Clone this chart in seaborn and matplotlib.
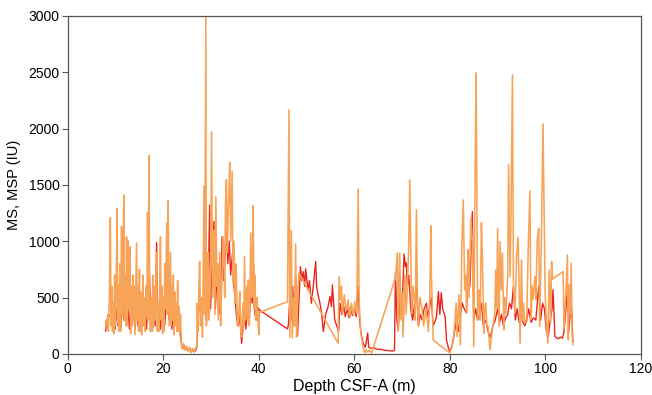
import pandas as pd
import matplotlib
matplotlib.use('Agg')
import matplotlib.pyplot as plt
import seaborn as sns

# =========================================
# MSP (diem, mau cam) - do sau (m) va gia tri (IU), doc tu hinh
msp_depth = [
    7.9, 8.05, 8.2, 8.35, 8.5, 8.7, 8.9, 9.05, 9.2, 9.35, 9.5, 9.65, 9.8, 9.95, 10.1, 10.3,
    10.45, 10.6, 10.75, 10.9, 11.05, 11.25, 11.4, 11.55, 11.73, 11.85, 12.0, 12.15, 12.3, 12.45, 12.6, 12.75,
    12.9, 13.0, 13.15, 13.3, 13.45, 13.6, 13.75, 13.9, 14.05, 14.2, 14.4, 14.55, 14.7, 14.85, 15.0, 15.15,
    15.3, 15.45, 15.6, 15.75, 15.9, 16.05, 16.2, 16.4, 16.55, 16.7, 16.85, 17.0, 17.15, 17.3, 17.45, 17.6,
    17.8, 17.95, 18.1, 18.25, 18.4, 18.6, 18.75, 18.9, 19.05, 19.2, 19.4, 19.55, 19.7, 19.85, 20.0, 20.15,
    20.3, 20.5, 20.7, 20.85, 21.0, 21.15, 21.3, 21.5, 21.65, 21.8, 21.95, 22.1, 22.25, 22.4, 22.55, 22.7,
    22.85, 23.0, 23.15, 23.3, 23.45, 23.6, 23.8, 24.0, 24.3, 24.6, 24.9, 25.2, 25.5, 25.8, 26.1, 26.4,
    26.7, 27.0, 27.1, 27.3, 27.45, 27.6, 27.8, 28.0, 28.2, 28.35, 28.5, 28.65, 28.9, 29.0, 29.1, 29.25,
    29.4, 29.55, 29.7, 29.9, 30.1, 30.3, 30.45, 30.6, 30.8, 31.0, 31.2, 31.35, 31.5, 31.65, 31.8, 32.0,
    32.15, 32.3, 32.5, 32.7, 32.85, 33.0, 33.2, 33.4, 33.55, 33.7, 33.9, 34.1, 34.25, 34.4, 34.6, 34.8,
    35.0, 35.15, 35.3, 35.5, 35.7, 35.85, 36.0, 36.2, 36.4, 36.55, 36.7, 36.85, 37.0, 37.2, 37.35, 37.5,
    37.65, 37.8, 38.0, 38.15, 38.3, 38.5, 38.65, 38.8, 39.0, 39.2, 39.35, 39.5, 39.65, 39.8, 40.0, 40.1,
    46.0, 46.3, 46.5, 46.8, 47.0, 47.3, 47.5, 47.7, 47.9, 48.1, 48.4, 56.6, 56.8, 57.1, 57.3, 57.5,
    57.7, 57.9, 58.2, 58.4, 58.7, 58.9, 59.1, 59.4, 59.6, 59.8, 60.1, 60.3, 60.5, 60.8, 61.0, 61.4,
    61.8, 62.2, 62.5, 62.8, 63.1, 63.6, 68.6, 69.0, 69.2, 69.5, 69.75, 70.0, 70.2, 70.6, 70.85, 71.1,
    71.35, 71.6, 72.0, 72.25, 72.5, 72.75, 73.0, 73.2, 73.4, 73.7, 74.1, 74.5, 75.0, 75.5, 75.8, 76.0,
    76.1, 76.5, 79.6, 80.0, 80.4, 80.7, 81.0, 81.3, 81.5, 81.7, 81.9, 82.2, 82.5, 82.8, 83.1, 83.3,
    83.5, 83.8, 84.0, 84.2, 84.4, 84.7, 85.0, 85.3, 85.5, 85.8, 86.1, 86.35, 86.6, 86.8, 87.1, 87.3,
    87.5, 87.75, 88.0, 88.4, 88.7, 89.1, 89.4, 89.6, 89.8, 90.0, 90.3, 90.5, 90.8, 91.0, 91.3, 91.5,
    91.7, 92.1, 92.3, 92.6, 92.8, 93.1, 93.3, 93.6, 93.8, 94.0, 94.3, 94.7, 95.0, 95.2, 95.4, 95.7,
    96.1, 96.4, 96.75, 97.0, 97.2, 97.4, 97.8, 98.0, 98.3, 98.6, 98.8, 99.2, 99.5, 99.7, 99.95, 100.2,
    100.5, 100.8, 101.1, 101.3, 101.5, 103.7, 103.9, 104.1, 104.3, 104.6, 104.8, 105.0, 105.2, 105.4, 105.6, 105.75,
]
msp_value = [
    230, 300, 250, 350, 200, 500, 1210, 250, 600, 200, 450, 180, 700, 250, 500, 1290,
    280, 600, 200, 800, 200, 1130, 350, 600, 1410, 300, 700, 250, 1040, 250, 1010, 400,
    700, 950, 180, 600, 250, 700, 300, 600, 170, 500, 985, 300, 600, 200, 750, 200,
    550, 170, 400, 700, 250, 500, 200, 600, 350, 1255, 300, 1760, 400, 200, 500, 200,
    700, 250, 600, 300, 500, 900, 200, 450, 200, 500, 1040, 300, 600, 180, 500, 200,
    800, 400, 1160, 350, 1360, 500, 250, 900, 250, 600, 300, 700, 170, 550, 250, 450,
    200, 650, 200, 420, 200, 350, 65, 40, 90, 30, 70, 20, 60, 10, 50, 15,
    40, 80, 450, 200, 600, 820, 250, 500, 150, 700, 1485, 350, 3000, 250, 300, 700,
    900, 300, 400, 800, 1970, 500, 900, 1100, 350, 1395, 600, 800, 300, 600, 900, 250,
    500, 700, 1040, 800, 500, 1300, 1545, 900, 1200, 1400, 1700, 1000, 1300, 1620, 630, 1000,
    450, 800, 700, 250, 290, 400, 553, 200, 150, 350, 450, 250, 865, 300, 450, 600,
    300, 655, 250, 500, 1072, 500, 800, 1313, 400, 700, 300, 375, 500, 300, 170, 367,
    464, 2166, 150, 1094, 142, 500, 250, 976, 150, 500, 716, 95, 686, 480, 600, 361,
    450, 524, 400, 390, 480, 350, 331, 450, 380, 346, 464, 380, 361, 1460, 450, 169,
    65, 10, 40, 15, 35, 8, 675, 895, 200, 895, 300, 540, 150, 700, 350, 600,
    900, 1545, 363, 600, 510, 300, 1280, 500, 243, 500, 420, 250, 400, 200, 500, 1136,
    775, 124, 20, 10, 60, 110, 257, 450, 155, 350, 524, 80, 952, 1367, 568, 700,
    363, 923, 500, 834, 1207, 1000, 65, 1677, 2494, 302, 568, 300, 1163, 864, 183, 400,
    450, 250, 243, 36, 154, 272, 361, 745, 400, 1115, 243, 997, 568, 894, 213, 500,
    361, 672, 1677, 686, 1219, 2476, 657, 361, 600, 894, 1033, 95, 834, 300, 450, 272,
    316, 923, 1447, 302, 600, 480, 686, 480, 1012, 1115, 243, 1130, 2041, 1337, 538, 272,
    95, 745, 272, 820, 665, 730, 228, 400, 538, 879, 124, 612, 361, 805, 154, 80,
]

# MS (vong, mau do)
ms_depth = [
    7.9, 8.2, 8.5, 8.8, 9.0, 9.3, 9.6, 9.9, 10.2, 10.5, 10.8, 11.1, 11.4, 11.7, 12.0, 12.3,
    12.6, 12.9, 13.2, 13.5, 13.8, 14.1, 14.4, 14.7, 15.0, 15.3, 15.6, 15.9, 16.2, 16.5, 16.8, 17.1,
    17.4, 17.7, 18.0, 18.3, 18.6, 18.8, 19.1, 19.4, 19.7, 20.0, 20.3, 20.6, 20.9, 21.2, 21.5, 21.8,
    22.1, 22.4, 22.7, 23.0, 23.3, 23.6, 23.9, 24.3, 24.7, 25.1, 25.5, 25.9, 26.3, 26.7, 27.0, 27.2,
    27.6, 28.0, 28.4, 28.8, 29.0, 29.4, 29.7, 29.9, 30.2, 30.6, 30.9, 31.2, 31.6, 32.0, 32.3, 32.6,
    32.9, 33.2, 33.5, 33.8, 34.1, 34.5, 34.8, 35.1, 35.4, 35.7, 36.0, 36.4, 36.7, 37.0, 37.3, 37.6,
    38.0, 38.3, 38.6, 38.9, 39.2, 39.6, 39.9, 40.1, 46.0, 46.2, 46.5, 46.8, 47.1, 47.4, 47.7, 48.1,
    48.7, 49.0, 49.3, 49.6, 49.8, 50.3, 50.6, 51.0, 51.4, 51.9, 52.1, 52.4, 52.8, 53.1, 53.5, 54.0,
    54.5, 54.9, 55.2, 55.4, 55.9, 56.3, 56.7, 57.0, 57.4, 57.8, 58.1, 58.5, 58.9, 59.2, 59.6, 60.0,
    60.4, 60.8, 61.1, 61.4, 61.8, 62.3, 62.8, 63.0, 63.5, 64.0, 64.5, 65.0, 65.5, 66.0, 66.5, 67.0,
    67.5, 68.0, 68.4, 68.6, 68.9, 69.2, 69.5, 70.0, 70.4, 70.7, 70.9, 71.1, 71.4, 71.8, 72.2, 72.6,
    73.0, 73.4, 73.8, 74.2, 74.6, 75.1, 75.3, 75.7, 76.1, 76.5, 77.0, 77.2, 77.6, 77.9, 78.2, 78.5,
    79.0, 79.3, 79.7, 80.0, 80.5, 81.0, 81.4, 81.8, 82.2, 82.6, 83.0, 83.5, 83.8, 84.2, 84.7, 85.0,
    85.4, 85.8, 86.2, 86.6, 87.0, 87.5, 88.0, 88.5, 89.0, 89.5, 90.0, 90.4, 90.8, 91.2, 91.7, 92.1,
    92.5, 92.9, 93.3, 93.7, 94.1, 94.5, 94.9, 95.3, 95.7, 96.1, 96.5, 97.0, 97.5, 98.0, 98.6, 99.0,
    99.4, 99.8, 100.2, 100.6, 101.0, 101.4, 101.6, 102.0, 102.4, 102.8, 103.2, 103.6, 103.9, 104.3, 104.6, 104.9,
    105.2, 105.5, 105.75,
]
ms_value = [
    200, 280, 340, 337, 350, 250, 320, 220, 400, 250, 450, 220, 500, 300, 450, 350,
    400, 220, 450, 250, 400, 220, 450, 250, 350, 200, 400, 250, 350, 220, 500, 700,
    300, 200, 350, 250, 988, 300, 400, 220, 400, 300, 257, 450, 600, 300, 400, 220,
    400, 250, 350, 220, 300, 150, 70, 50, 60, 30, 50, 20, 40, 25, 60, 350,
    450, 300, 500, 700, 300, 600, 1320, 400, 800, 1175, 400, 700, 350, 500, 1040, 650,
    800, 1100, 800, 1000, 700, 900, 600, 450, 300, 250, 350, 95, 250, 450, 220, 400,
    300, 600, 450, 800, 350, 300, 408, 390, 222, 260, 500, 300, 600, 250, 700, 160,
    775, 650, 730, 600, 755, 568, 650, 450, 600, 820, 600, 524, 450, 375, 198, 350,
    420, 510, 420, 612, 300, 250, 200, 450, 350, 420, 330, 400, 320, 420, 340, 400,
    330, 600, 300, 180, 100, 60, 185, 60, 50, 55, 45, 40, 42, 35, 33, 30,
    28, 25, 30, 720, 300, 213, 500, 400, 887, 775, 807, 600, 700, 400, 300, 450,
    600, 250, 350, 300, 400, 450, 330, 400, 500, 250, 300, 330, 553, 350, 543, 400,
    330, 124, 50, 20, 80, 200, 300, 200, 350, 450, 400, 363, 923, 600, 1263, 300,
    400, 300, 350, 450, 250, 300, 200, 150, 250, 300, 400, 280, 350, 250, 320, 350,
    450, 400, 600, 300, 400, 280, 350, 280, 250, 300, 400, 280, 320, 300, 600, 300,
    450, 400, 200, 150, 300, 400, 568, 154, 140, 135, 150, 140, 200, 400, 600, 200,
    361, 400, 100,
]

x_ticks = [0, 20, 40, 60, 80, 100, 120]
y_ticks = [0, 500, 1000, 1500, 2000, 2500, 3000]

df_ms = pd.DataFrame({'depth': ms_depth, 'value': ms_value})
df_msp = pd.DataFrame({'depth': msp_depth, 'value': msp_value})

# =========================================
sns.set_style('ticks')
plt.rcParams['font.family'] = ['Liberation Sans', 'DejaVu Sans']
plt.rcParams['text.color'] = 'black'
plt.rcParams['axes.labelcolor'] = 'black'
plt.rcParams['xtick.color'] = '#555555'
plt.rcParams['ytick.color'] = '#555555'
plt.rcParams['xtick.labelcolor'] = 'black'
plt.rcParams['ytick.labelcolor'] = 'black'

fig = plt.figure(figsize=(6.52, 3.95), dpi=100)
ax = fig.add_axes([0.104, 0.104, 0.879, 0.856])

sns.lineplot(data=df_ms, x='depth', y='value', ax=ax, color='#e8261e',
             linewidth=1.0, sort=False, estimator=None)
sns.lineplot(data=df_msp, x='depth', y='value', ax=ax, color='#f8a458',
             linewidth=1.15, sort=False, estimator=None)

ax.set_xlim(0, 120)
ax.set_ylim(0, 3000)
ax.set_xticks(x_ticks)
ax.set_yticks(y_ticks)
ax.set_xlabel('Depth CSF-A (m)', fontsize=11.5, labelpad=2)
ax.set_ylabel('MS, MSP (IU)', fontsize=10.5, labelpad=5)
ax.tick_params(labelsize=10, length=4, width=0.8, pad=2)
for side in ['top', 'right', 'bottom', 'left']:
    ax.spines[side].set_visible(True)
    ax.spines[side].set_color('#555555')
    ax.spines[side].set_linewidth(0.9)

fig.savefig('out.png', dpi=100)
